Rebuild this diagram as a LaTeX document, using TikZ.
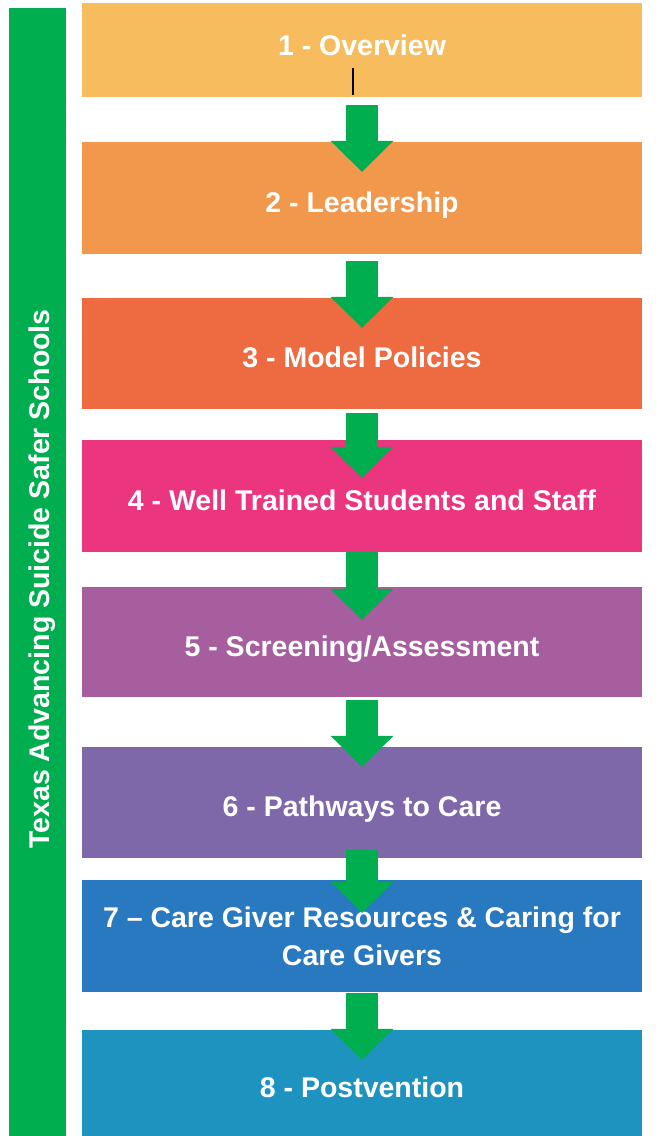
\documentclass[tikz,border=0pt]{standalone}
\usepackage{fontspec}
\setmainfont{Liberation Sans}
\usetikzlibrary{arrows.meta,positioning}

\definecolor{sideGreen}{HTML}{00AE4F}
\definecolor{stepOne}{HTML}{F6BC5E}
\definecolor{stepTwo}{HTML}{F2984D}
\definecolor{stepThree}{HTML}{EE6A40}
\definecolor{stepFour}{HTML}{EB357F}
\definecolor{stepFive}{HTML}{A65E9E}
\definecolor{stepSix}{HTML}{7F68AA}
\definecolor{stepSeven}{HTML}{2879C0}
\definecolor{stepEight}{HTML}{1E93BF}

\begin{document}
\begin{tikzpicture}[x=1pt,y=-1pt,
    stepbox/.style={rectangle, minimum width=560pt, inner sep=0pt, text=white,
        align=center, font=\fontsize{28.5}{38}\selectfont\bfseries},
    oneline/.style={text height=28pt, text depth=0pt},
    flowarrow/.style={draw=sideGreen, line width=32pt,
        -{Triangle[width=63pt,length=31pt,line width=0pt]}}]
    \useasboundingbox (0,0) rectangle (672,1136);

    % Side bar with the programme title
    \fill[sideGreen] (9,8) rectangle (66,1136);
    \node[rotate=90, text=white, font=\fontsize{28.5}{34}\selectfont\bfseries] (title) at (42,579) {Texas Advancing Suicide Safer Schools};

    % The eight steps
    \node[stepbox, fill=stepOne, minimum height=94pt, text height=10pt, text depth=0pt] (s1) at (362,50) {1 - Overview};
    \node[stepbox, oneline, fill=stepTwo, minimum height=112pt] (s2) at (362,198) {2 - Leadership};
    \node[stepbox, oneline, fill=stepThree, minimum height=111pt] (s3) at (362,353.5) {3 - Model Policies};
    \node[stepbox, oneline, fill=stepFour, minimum height=112pt] (s4) at (362,496) {4 - Well Trained Students and Staff};
    \node[stepbox, oneline, fill=stepFive, minimum height=110pt] (s5) at (362,642) {5 - Screening/Assessment};
    \node[stepbox, oneline, fill=stepSix, minimum height=111pt] (s6) at (362,802.5) {6 - Pathways to Care};
    \node[stepbox, fill=stepSeven, minimum height=112pt] (s7) at (362,936) {7 – Care Giver Resources \& Caring for\\Care Givers};
    \node[stepbox, oneline, fill=stepEight, minimum height=106pt] (s8) at (362,1083) {8 - Postvention};

    % small mark under the first title
    \draw[line width=2pt] (353,68) -- (353,95);

    % Arrows between the steps
    \draw[flowarrow] ([yshift=-8pt]s1.south) -- ([yshift=-30pt]s2.north);
    \draw[flowarrow] ([yshift=-7pt]s2.south) -- ([yshift=-30pt]s3.north);
    \draw[flowarrow] ([yshift=-4pt]s3.south) -- ([yshift=-38pt]s4.north);
    \draw[flowarrow] (s4.south) -- ([yshift=-33pt]s5.north);
    \draw[flowarrow] ([yshift=-3pt]s5.south) -- ([yshift=-20pt]s6.north);
    \draw[flowarrow] ([yshift=8pt]s6.south) -- ([yshift=-33pt]s7.north);
    \draw[flowarrow] ([yshift=-1pt]s7.south) -- ([yshift=-30pt]s8.north);
\end{tikzpicture}
\end{document}
